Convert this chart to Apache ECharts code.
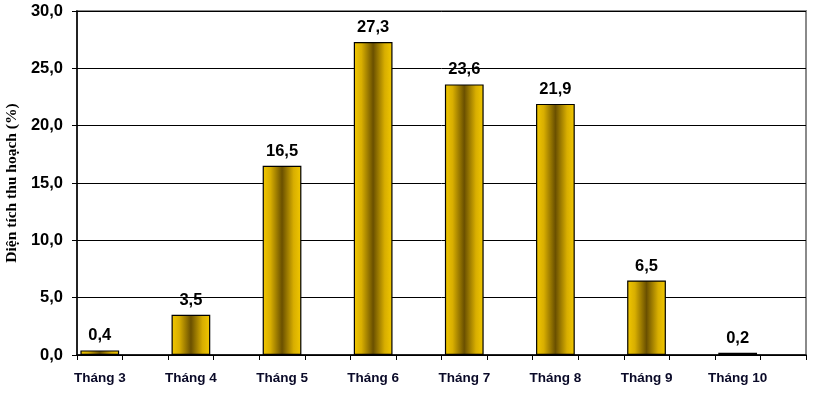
<!DOCTYPE html>
<html>
<head>
<meta charset="utf-8">
<script src="https://cdn.jsdelivr.net/npm/echarts@6/dist/echarts.min.js"></script>
<style>html,body{margin:0;padding:0;background:#fff;}#c{width:817px;height:395px;}</style>
</head>
<body>
<div id="c"></div>
<script>
var months = ['Tháng 3','Tháng 4','Tháng 5','Tháng 6','Tháng 7','Tháng 8','Tháng 9','Tháng 10'];
var values = [0.4, 3.5, 16.5, 27.3, 23.6, 21.9, 6.5, 0.2];
var yTicks = [0, 5, 10, 15, 20, 25, 30];
var yTitle = 'Diện tích thu hoạch (%)';

// the original chart uses an empty slot between each month
var cats = [], data = [];
months.forEach(function (m, i) {
  cats.push(m); data.push(values[i]);
  cats.push(''); data.push('-');
});

var fmt = function (v) { return v.toFixed(1).replace('.', ','); };

var chart = echarts.init(document.getElementById('c'), null, {renderer: 'canvas'});
chart.setOption({
  animation: false,
  grid: {left: 77, right: 11, top: 11, bottom: 40, containLabel: false, outerBoundsMode: 'none',
    show: true, borderColor: '#8a8a8a', borderWidth: 2, backgroundColor: '#fff'},
  xAxis: {
    type: 'category', data: cats, boundaryGap: true,
    axisLine: {lineStyle: {color: '#000', width: 1.5}},
    axisTick: {show: true, alignWithLabel: false, length: 5, interval: 0, lineStyle: {color: '#000'}},
    axisLabel: {interval: 0, margin: 16, color: '#0a0a28', fontFamily: 'Liberation Sans, Arial', fontWeight: 'bold', fontSize: 13.5}
  },
  yAxis: {
    type: 'value', min: yTicks[0], max: yTicks[yTicks.length - 1], interval: 5,
    name: yTitle, nameLocation: 'middle', nameGap: 54, nameRotate: 90,
    nameTextStyle: {fontFamily: 'Liberation Serif, Times New Roman', fontWeight: 'bold', fontSize: 15.5, color: '#000'},
    axisLine: {show: true, lineStyle: {color: '#000', width: 1.5}},
    axisTick: {show: true, length: 5, lineStyle: {color: '#000'}},
    axisLabel: {formatter: fmt, margin: 14, color: '#000', fontFamily: 'Liberation Sans, Arial', fontWeight: 'bold', fontSize: 16.5},
    splitLine: {lineStyle: {color: '#000', width: 1}}
  },
  series: [{
    type: 'bar', data: data, barWidth: '85%',
    itemStyle: {
      borderColor: '#000', borderWidth: 1.2,
      color: new echarts.graphic.LinearGradient(0, 0, 1, 0, [
        {offset: 0, color: '#F2C800'},
        {offset: 0.2, color: '#D8AE00'},
        {offset: 0.5, color: '#6A5000'},
        {offset: 0.8, color: '#D8AE00'},
        {offset: 1, color: '#F2C800'}
      ])
    },
    label: {show: true, position: 'top', distance: 6, formatter: function (p) { return fmt(p.value); },
      color: '#000', fontFamily: 'Liberation Sans, Arial', fontWeight: 'bold', fontSize: 16.5}
  }]
});
</script>
</body>
</html>
